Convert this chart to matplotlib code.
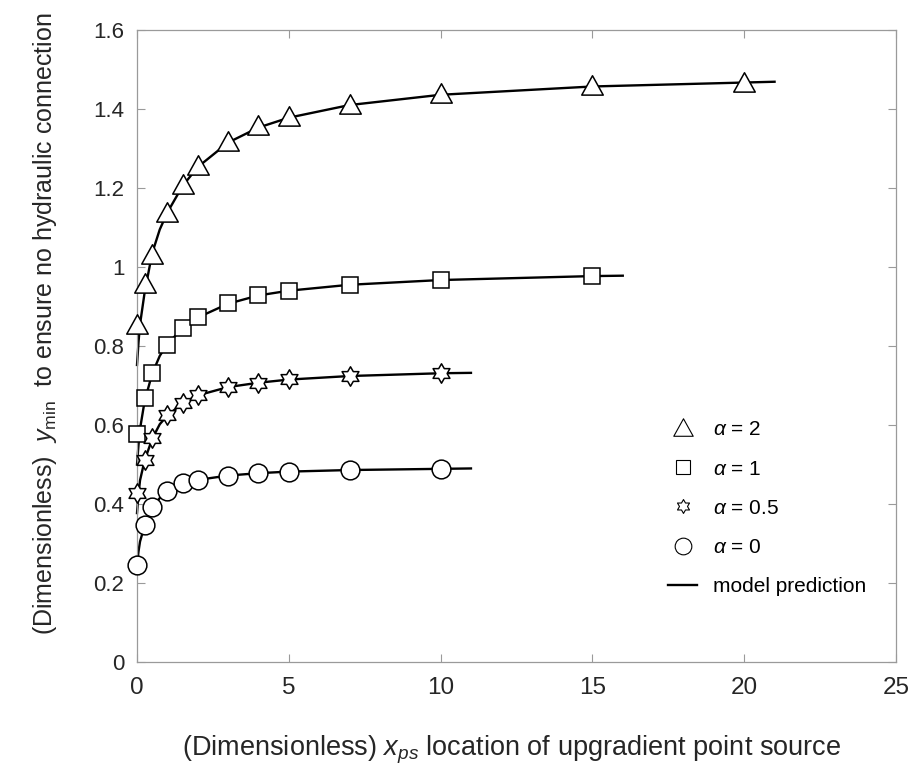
import numpy as np
import matplotlib
matplotlib.use("Agg")
import matplotlib.pyplot as plt
from matplotlib.path import Path
from matplotlib.lines import Line2D
from matplotlib.ticker import FuncFormatter

plt.rcParams["font.family"] = ["Liberation Sans", "DejaVu Sans"]
plt.rcParams["mathtext.fontset"] = "custom"
plt.rcParams["mathtext.rm"] = "Liberation Sans"
plt.rcParams["mathtext.it"] = "Liberation Sans:italic"

# measured points (markers)
x_a2 = [0, 0.25, 0.5, 1, 1.5, 2, 3, 4, 5, 7, 10, 15, 20]
y_a2 = [0.853, 0.957, 1.03, 1.137, 1.207, 1.256, 1.316, 1.357, 1.38, 1.41, 1.437, 1.457, 1.467]
x_a1 = [0, 0.25, 0.5, 1, 1.5, 2, 3, 4, 5, 7, 10, 15]
y_a1 = [0.577, 0.668, 0.731, 0.803, 0.845, 0.874, 0.908, 0.929, 0.939, 0.954, 0.967, 0.977]
x_a05 = [0, 0.25, 0.5, 1, 1.5, 2, 3, 4, 5, 7, 10]
y_a05 = [0.428, 0.511, 0.567, 0.625, 0.655, 0.676, 0.696, 0.707, 0.716, 0.724, 0.731]
x_a0 = [0, 0.25, 0.5, 1, 1.5, 2, 3, 4, 5, 7, 10]
y_a0 = [0.246, 0.347, 0.392, 0.433, 0.453, 0.461, 0.471, 0.478, 0.482, 0.486, 0.488]

# model prediction curves
mx_a2 = [0, 0.05, 0.1, 0.25, 0.5, 0.75, 1, 1.5, 2, 3, 4, 5, 7, 10, 15, 21]
my_a2 = [0.752, 0.81, 0.855, 0.935, 1.035, 1.095, 1.138, 1.205, 1.253, 1.315, 1.353, 1.378, 1.41, 1.436, 1.457, 1.469]
mx_a1 = [0, 0.05, 0.1, 0.25, 0.5, 0.75, 1, 1.5, 2, 3, 4, 5, 7, 10, 15, 16]
my_a1 = [0.50, 0.55, 0.59, 0.66, 0.73, 0.775, 0.805, 0.845, 0.872, 0.907, 0.928, 0.94, 0.955, 0.967, 0.977, 0.978]
mx_a05 = [0, 0.05, 0.1, 0.25, 0.5, 0.75, 1, 1.5, 2, 3, 4, 5, 7, 10, 11]
my_a05 = [0.377, 0.425, 0.46, 0.51, 0.565, 0.602, 0.624, 0.655, 0.675, 0.696, 0.707, 0.715, 0.724, 0.731, 0.732]
mx_a0 = [0, 0.05, 0.1, 0.25, 0.5, 0.75, 1, 1.5, 2, 3, 4, 5, 7, 10, 11]
my_a0 = [0.246, 0.28, 0.305, 0.345, 0.39, 0.415, 0.432, 0.452, 0.461, 0.472, 0.478, 0.482, 0.486, 0.489, 0.49]

labels = [r"$\alpha$ = 2", r"$\alpha$ = 1", r"$\alpha$ = 0.5", r"$\alpha$ = 0", "model prediction"]

tri = Path([(-1, -0.8), (1, -0.8), (0, 1.0), (-1, -0.8)],
           [Path.MOVETO, Path.LINETO, Path.LINETO, Path.CLOSEPOLY])
star = Path.unit_regular_star(6, 0.577)

fig = plt.figure(figsize=(9.13, 7.8), dpi=100)
ax = fig.add_axes([137 / 913, 1 - 662 / 780, 759 / 913, 632 / 780])

for mx, my in [(mx_a2, my_a2), (mx_a1, my_a1), (mx_a05, my_a05), (mx_a0, my_a0)]:
    ax.plot(mx, my, color="black", lw=1.7, zorder=2, clip_on=False)

mk = dict(linestyle="none", markerfacecolor="white", markeredgecolor="black",
          markeredgewidth=1.1, zorder=3, clip_on=False)
ax.plot(x_a2, y_a2, marker=tri, markersize=15.5, **mk)
ax.plot(x_a1, y_a1, marker="s", markersize=11, **mk)
ax.plot(x_a05, y_a05, marker=star, markersize=14, **mk)
ax.plot(x_a0, y_a0, marker="o", markersize=13.5, **mk)

ax.set_xlim(0, 25)
ax.set_ylim(0, 1.6)
ax.set_xticks([0, 5, 10, 15, 20, 25])
ax.set_yticks([0, 0.2, 0.4, 0.6, 0.8, 1.0, 1.2, 1.4, 1.6])
ax.yaxis.set_major_formatter(FuncFormatter(lambda v, p: "%g" % v))

for s in ax.spines.values():
    s.set_color("#9a9a9a")
    s.set_linewidth(0.9)
ax.tick_params(direction="in", length=6, width=0.8, color="#9a9a9a", top=True, right=True,
               labelcolor="#262626")
ax.tick_params(axis="y", labelsize=16, pad=9)
ax.tick_params(axis="x", labelsize=17.5, pad=11)

# legend
lk = dict(linestyle="none", markerfacecolor="white", markeredgecolor="black", markeredgewidth=0.8)
handles = [
    Line2D([], [], marker=tri, markersize=14, **lk),
    Line2D([], [], marker="s", markersize=9.5, **lk),
    Line2D([], [], marker=star, markersize=10, **lk),
    Line2D([], [], marker="o", markersize=12, **lk),
    Line2D([], [], color="black", lw=1.7),
]
ax.legend(handles, labels, loc="upper left", bbox_to_anchor=(0.675, 0.412), frameon=False,
          fontsize=15, handlelength=1.4, handletextpad=0.75, labelspacing=0.97)

fig.text(512 / 913, 1 - 750 / 780, r"(Dimensionless) $x_{ps}$ location of upgradient point source",
         ha="center", va="center", fontsize=19.5, color="#262626")
fig.text(45 / 913, 1 - 324 / 780, r"(Dimensionless)  $y_{\mathrm{min}}$  to ensure no hydraulic connection",
         ha="center", va="center", rotation=90, fontsize=18, color="#262626")

fig.savefig("out.png", dpi=100)
